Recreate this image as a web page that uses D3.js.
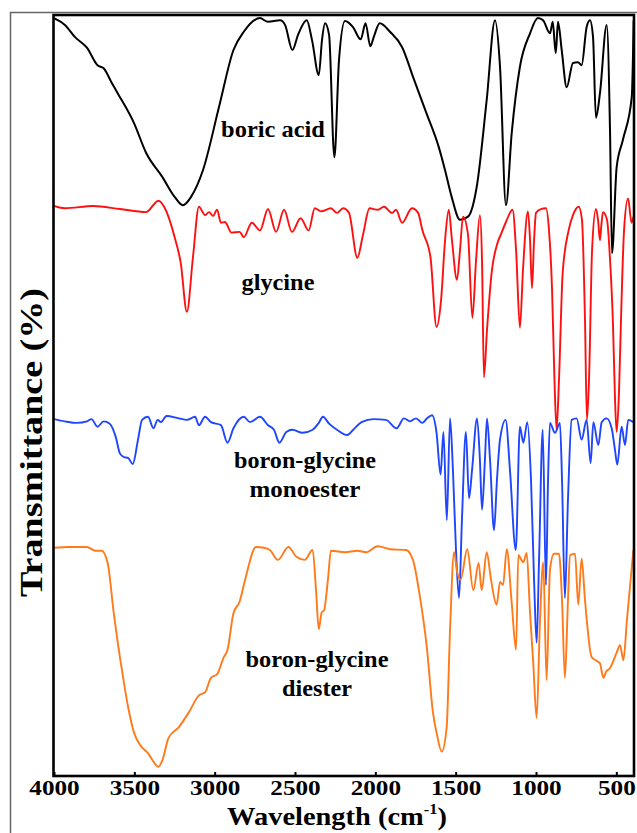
<!DOCTYPE html>
<html><head><meta charset="utf-8">
<script src="https://cdn.jsdelivr.net/npm/d3@7/dist/d3.min.js"></script>
<style>body{margin:0;background:#fff}svg{display:block}</style>
</head><body>
<script>
// ---- data (wavenumber cm-1, stacked transmittance units) ----
const xTicks = [4000,3500,3000,2500,2000,1500,1000,500];

const boricAcid = [[4000,99.6],[3932,98.7],[3869,97.1],[3795,95.7],[3729,93.4],[3691,93.0],[3641,91.1],[3603,89.7],[3502,85.8],[3427,81.9],[3325,78.7],[3249,76.1],[3198,75.0],[3147,76.1],[3073,79.6],[2973,87.9],[2883,95.4],[2819,97.8],[2718,99.6],[2668,99.1],[2593,99.3],[2562,98.7],[2516,95.4],[2481,97.4],[2427,99.3],[2394,96.7],[2352,92.1],[2332,96.7],[2313,98.9],[2288,97.4],[2255,81.3],[2226,94.1],[2189,99.2],[2139,98.4],[2091,96.8],[2061,98.9],[2031,95.9],[2010,97.1],[1972,98.9],[1909,97.8],[1834,95.8],[1759,91.5],[1682,87.1],[1606,82.7],[1566,79.6],[1525,76.1],[1473,73.1],[1423,73.5],[1369,77.4],[1307,88.8],[1255,99.3],[1224,93.2],[1187,75.0],[1151,84.5],[1100,93.2],[1037,97.6],[988,99.6],[956,99.3],[913,97.6],[896,99.1],[877,95.0],[863,99.1],[840,95.4],[809,90.5],[770,93.7],[739,93.8],[716,93.4],[685,98.4],[664,99.3],[645,97.1],[627,86.5],[602,89.7],[560,98.7],[539,84.5],[527,68.7],[498,80.0],[459,83.6],[404,89.2],[392,99.3]];

const glycine = [[4000,74.9],[3932,74.6],[3757,74.9],[3589,74.5],[3427,74.1],[3350,75.6],[3312,74.7],[3249,70.8],[3211,67.4],[3173,61.0],[3135,68.2],[3098,74.8],[3060,73.7],[3035,74.1],[3010,73.6],[2985,74.4],[2961,72.7],[2936,72.8],[2895,71.4],[2845,71.5],[2819,70.8],[2769,72.7],[2718,71.7],[2668,74.5],[2618,71.5],[2568,74.4],[2519,71.5],[2465,73.3],[2415,71.7],[2377,74.6],[2338,74.2],[2276,74.6],[2239,74.0],[2201,74.6],[2164,74.0],[2112,68.1],[2077,71.1],[2036,74.6],[1985,74.4],[1946,74.8],[1896,74.0],[1871,74.4],[1834,72.7],[1772,74.6],[1734,74.0],[1707,71.7],[1657,68.2],[1619,59.0],[1591,62.5],[1566,70.4],[1543,74.4],[1523,70.4],[1492,65.2],[1473,69.1],[1454,73.5],[1423,71.1],[1396,60.2],[1373,67.8],[1349,73.7],[1336,67.8],[1324,52.4],[1305,58.6],[1274,66.5],[1243,69.8],[1214,71.4],[1187,72.8],[1146,74.4],[1124,69.1],[1100,58.9],[1081,66.5],[1050,74.2],[1037,70.4],[1025,64.1],[1012,70.4],[1000,74.0],[969,74.5],[938,74.6],[919,71.7],[900,63.9],[885,52.0],[872,45.5],[857,52.0],[834,66.1],[797,71.7],[770,73.7],[734,74.8],[714,73.1],[695,59.9],[683,46.8],[670,52.0],[651,69.1],[627,74.5],[614,73.1],[602,70.4],[593,72.4],[583,74.1],[558,73.1],[539,67.8],[521,59.5],[508,49.4],[498,45.2],[483,50.7],[471,59.9],[452,71.7],[427,75.9],[405,72.7],[393,73.5]];

const monoester = [[4000,46.9],[3932,46.6],[3857,46.4],[3795,46.6],[3767,46.9],[3729,45.9],[3691,46.6],[3653,46.3],[3615,44.5],[3590,42.4],[3564,41.9],[3539,41.8],[3510,41.0],[3477,44.2],[3452,46.8],[3415,47.2],[3381,45.7],[3355,46.8],[3334,46.5],[3300,47.3],[3224,47.0],[3173,46.8],[3122,47.2],[3098,46.1],[3060,47.2],[3023,46.5],[2961,46.1],[2920,43.8],[2883,45.7],[2819,47.2],[2780,46.5],[2718,47.2],[2668,46.1],[2631,45.5],[2597,43.8],[2554,45.2],[2516,45.5],[2453,45.1],[2390,45.5],[2352,46.4],[2326,47.2],[2288,46.3],[2239,45.5],[2176,44.8],[2137,45.5],[2086,46.5],[2010,46.9],[1934,46.8],[1867,45.7],[1822,47.0],[1784,46.6],[1747,47.0],[1707,46.4],[1678,47.0],[1647,47.4],[1619,45.1],[1594,39.6],[1576,45.2],[1555,33.6],[1535,47.0],[1517,40.2],[1498,29.7],[1479,23.4],[1461,33.6],[1436,45.2],[1417,36.5],[1398,40.2],[1367,47.0],[1349,41.5],[1336,35.0],[1318,41.5],[1305,47.0],[1286,41.5],[1261,32.3],[1243,38.9],[1224,44.2],[1189,46.8],[1162,40.2],[1126,29.7],[1100,45.9],[1079,43.8],[1054,46.5],[1031,38.9],[1012,25.8],[996,17.5],[981,28.4],[958,45.5],[938,25.1],[925,38.9],[913,46.4],[882,45.1],[851,46.4],[838,38.9],[820,23.4],[801,36.3],[778,46.8],[747,47.0],[716,44.2],[685,46.8],[660,41.1],[643,46.5],[612,43.5],[591,46.5],[560,47.0],[529,45.7],[508,42.8],[494,40.9],[467,45.9],[446,43.5],[426,46.8],[394,46.5]];

const diester = [[4000,30.0],[3907,30.1],[3795,30.1],[3742,29.6],[3704,29.6],[3666,28.0],[3628,21.4],[3603,17.5],[3577,13.9],[3539,9.1],[3502,5.7],[3465,4.1],[3415,3.0],[3378,1.8],[3350,1.2],[3325,2.1],[3287,5.0],[3224,6.4],[3160,8.4],[3098,10.6],[3060,11.0],[3023,12.9],[2984,13.4],[2946,15.5],[2920,16.6],[2883,21.4],[2845,22.9],[2807,26.1],[2743,30.1],[2693,30.0],[2656,29.7],[2606,28.4],[2541,30.1],[2491,28.8],[2440,28.4],[2390,29.7],[2369,24.4],[2352,19.3],[2334,21.5],[2319,21.8],[2295,25.8],[2276,29.6],[2189,29.4],[2112,29.6],[2058,29.4],[1985,30.2],[1909,29.8],[1809,29.7],[1766,28.4],[1722,23.5],[1680,17.0],[1641,8.3],[1616,5.4],[1587,3.2],[1556,6.4],[1535,19.2],[1510,29.4],[1490,26.7],[1469,25.8],[1428,29.8],[1390,24.4],[1357,28.0],[1338,24.4],[1307,29.4],[1280,25.8],[1245,22.5],[1224,25.5],[1205,25.1],[1182,29.8],[1151,22.7],[1124,16.6],[1110,29.0],[1079,28.1],[1058,29.3],[1037,21.4],[1017,14.8],[996,7.6],[975,20.5],[955,28.1],[934,12.6],[913,27.1],[888,29.2],[857,29.2],[838,23.1],[820,12.9],[801,23.1],[788,29.0],[757,29.2],[737,22.5],[716,28.6],[695,23.1],[653,15.6],[627,15.2],[602,14.8],[580,12.9],[564,13.7],[539,14.2],[498,16.2],[477,17.2],[456,15.2],[434,20.5],[394,29.7]];

const seriesNames = ["boric acid","glycine","boron-glycine monoester","boron-glycine diester"];
const seriesColors = ["#000000","#ff1010","#1f45ff","#ff7a1a"];
// label anchor (wavenumber, transmittance) and lines
const labelLines = [["boric acid"],["glycine"],["boron-glycine","monoester"],["boron-glycine","diester"]];
const labelPos = [[2637,84.0],[2606,63.9],[2438,40.5],[2363,14.3]];
const labelWidths = [[104],[73],[142,111],[143,70]];

// ---- drawing ----
const W = 637, H = 833;
const FONT = "'Liberation Serif','Times New Roman',serif";
const svg = d3.select("body").append("svg").attr("width", W).attr("height", H);

const x = d3.scaleLinear().domain([4000, 390]).range([54, 634]);
const y = d3.scaleLinear().domain([0, 100]).range([776, 15]);

// outer thin frame
svg.append("rect").attr("x", 10.5).attr("y", 12.5).attr("width", 700).attr("height", 900)
  .attr("fill", "none").attr("stroke", "#666").attr("stroke-width", 1.5);

svg.append("defs").append("clipPath").attr("id", "clip")
  .append("rect").attr("x", 54).attr("y", 15).attr("width", 580).attr("height", 761);

const line = d3.line().x(d => x(d[0])).y(d => y(d[1])).curve(d3.curveMonotoneX);
const all = [boricAcid, glycine, monoester, diester];
const gl = svg.append("g").attr("clip-path", "url(#clip)");
all.forEach((s, i) => {
  gl.append("path").datum(s).attr("d", line).attr("fill", "none")
    .attr("stroke", seriesColors[i]).attr("stroke-width", i === 0 ? 2 : 1.9)
    .attr("stroke-linejoin", "round");
});

// plot frame
svg.append("rect").attr("x", 53.5).attr("y", 15).attr("width", 580.5).attr("height", 761)
  .attr("fill", "none").attr("stroke", "#000").attr("stroke-width", 2.6);

// x axis
const ax = svg.append("g").attr("transform", "translate(0,776)")
  .call(d3.axisBottom(x).tickValues(xTicks).tickSize(-4).tickFormat(d3.format("d")));
ax.select(".domain").remove();
ax.selectAll(".tick line").attr("stroke", "#000").attr("stroke-width", 2);
ax.selectAll(".tick text").attr("y", 19).attr("dy", 0)
  .attr("font-family", FONT).attr("font-weight", "bold").attr("font-size", 21.5).attr("fill", "#000")
  .attr("textLength", d => String(d).length * 12.6).attr("lengthAdjust", "spacingAndGlyphs");

function fitGroup(g, target) {
  const t = g.select("text");
  const w = t.node().getBBox().width;
  t.attr("transform", `scale(${target / w},1)`);
}

// x title
const xt = svg.append("g").attr("transform", "translate(337,825)");
const xtt = xt.append("text").attr("text-anchor", "middle").attr("font-family", FONT)
  .attr("font-weight", "bold").attr("font-size", 26).attr("fill", "#000");
xtt.append("tspan").text("Wavelength (cm");
xtt.append("tspan").attr("font-size", 15).attr("dy", -11).text("-1");
xtt.append("tspan").attr("dy", 11).text(")");
fitGroup(xt, 220);

// y title
const yt = svg.append("g").attr("transform", "translate(42,442.5) rotate(-90)");
yt.append("text").attr("text-anchor", "middle").attr("font-family", FONT)
  .attr("font-weight", "bold").attr("font-size", 32).attr("fill", "#000").text("Transmittance (%)");
fitGroup(yt, 309);

// series labels
labelLines.forEach((lines, i) => {
  lines.forEach((txt, j) => {
    const g = svg.append("g").attr("transform",
      `translate(${x(labelPos[i][0])},${y(labelPos[i][1]) + j * 29})`);
    g.append("text").attr("text-anchor", "middle").attr("font-family", FONT)
      .attr("font-weight", "bold").attr("font-size", 23).attr("fill", "#000").text(txt);
    fitGroup(g, labelWidths[i][j]);
  });
});
</script>
</body></html>
